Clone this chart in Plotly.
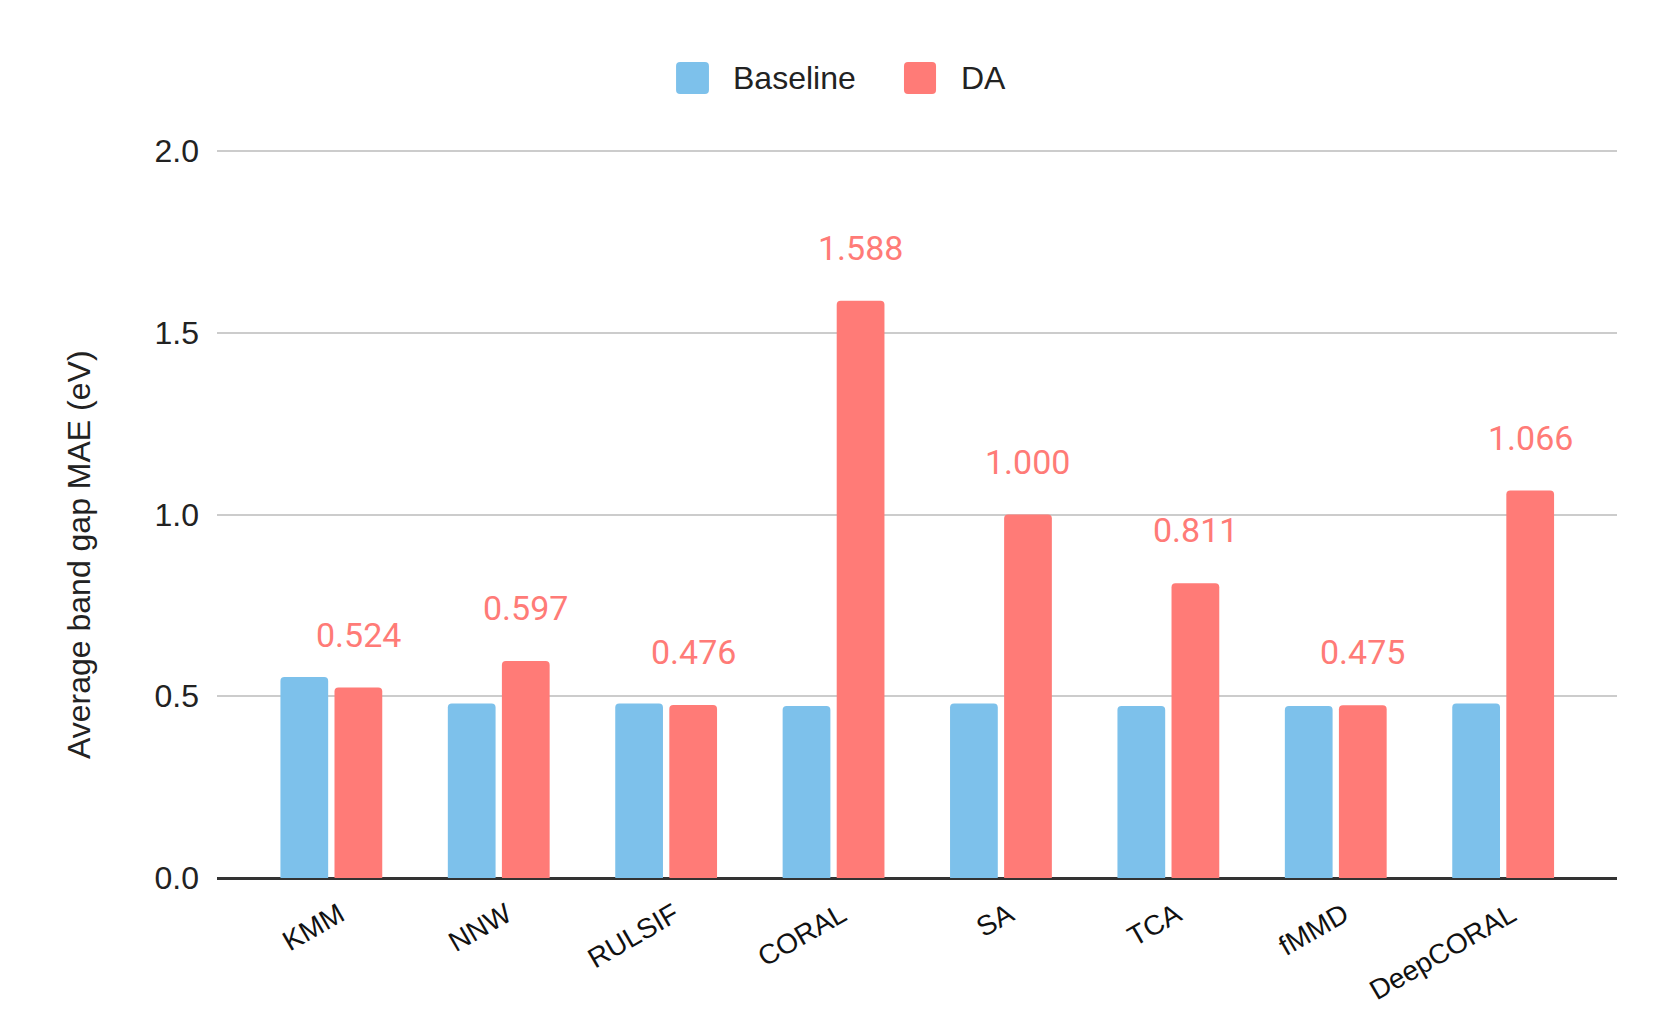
import plotly.graph_objects as go

categories = ["KMM", "NNW", "RULSIF", "CORAL", "SA", "TCA", "fMMD", "DeepCORAL"]
baseline = [0.553, 0.480, 0.480, 0.473, 0.480, 0.473, 0.473, 0.480]
da = [0.524, 0.597, 0.476, 1.588, 1.000, 0.811, 0.475, 1.066]
da_labels = ["0.524", "0.597", "0.476", "1.588", "1.000", "0.811", "0.475", "1.066"]
y_ticks = [0.0, 0.5, 1.0, 1.5, 2.0]
y_tick_text = ["0.0", "0.5", "1.0", "1.5", "2.0"]

BLUE = "#7DC1EB"
RED = "#FF7B77"
TEXT = "#222222"

W, H = 1661, 1030
ML, MR, MT, MB = 209, 52, 142, 160
XR = [-0.683, 7.68]
BARGAP = 0.354
BARGROUPGAP = 0.117
plot_w = W - ML - MR
plot_h = H - MT - MB
px_per_cat = plot_w / (XR[1] - XR[0])
slot_px = px_per_cat * (1 - BARGAP) / 2

fig = go.Figure()
fig.add_trace(go.Bar(x=categories, y=baseline, name="Baseline",
                     marker=dict(color=BLUE, line=dict(width=0)), showlegend=False))
fig.add_trace(go.Bar(x=categories, y=da, name="DA",
                     marker=dict(color=RED, line=dict(width=0)), showlegend=False))

for c, v, t in zip(categories, da, da_labels):
    fig.add_annotation(x=c, y=v, text=t, showarrow=False, xref="x", yref="y",
                       xshift=slot_px / 2, yshift=31, yanchor="bottom",
                       font=dict(family="Roboto", size=34, color=RED))


def rounded_rect(x0, x1, y0, y1, r_px=4):
    rx = r_px / plot_w
    ry = r_px / plot_h
    return (f"M{x0+rx},{y0} L{x1-rx},{y0} Q{x1},{y0} {x1},{y0+ry} "
            f"L{x1},{y1-ry} Q{x1},{y1} {x1-rx},{y1} L{x0+rx},{y1} "
            f"Q{x0},{y1} {x0},{y1-ry} L{x0},{y0+ry} Q{x0},{y0} {x0+rx},{y0} Z")


# legend drawn as layout items (paper coordinates)
legend_items = [("Baseline", BLUE, 0.3279, 0.3514, 0.3671),
                ("DA", RED, 0.4907, 0.5136, 0.5300)]
for name, col, x0, x1, xt in legend_items:
    fig.add_shape(type="path", xref="paper", yref="paper",
                  path=rounded_rect(x0, x1, 1.0769, 1.1209),
                  fillcolor=col, line=dict(width=0))
    fig.add_annotation(xref="paper", yref="paper", x=xt, y=1.0989, text=name,
                       showarrow=False, xanchor="left", yanchor="middle",
                       font=dict(family="Liberation Sans, Arial", size=32, color=TEXT))

# y-axis title
fig.add_annotation(xref="paper", yref="paper", x=-0.0986, y=0.445,
                   text="Average band gap MAE (eV)", textangle=-90, showarrow=False,
                   xanchor="center", yanchor="middle",
                   font=dict(family="Liberation Sans, Arial", size=32, color=TEXT))

fig.update_layout(
    width=W, height=H,
    margin=dict(l=ML, r=MR, t=MT, b=MB),
    paper_bgcolor="white", plot_bgcolor="white",
    barmode="group", bargap=BARGAP, bargroupgap=BARGROUPGAP, barcornerradius=4,
    font=dict(family="Liberation Sans, Arial", color=TEXT),
    xaxis=dict(range=XR, tickangle=-30, tickfont=dict(size=28, color="#111111"),
               showgrid=False, showline=False, ticks="", automargin=False,
               ticklabelstandoff=14, ticklabelshift=8),
    yaxis=dict(range=[0, 2.003], tickvals=y_ticks, ticktext=y_tick_text,
               tickfont=dict(size=32, color=TEXT), showgrid=True,
               gridcolor="#CCCCCC", gridwidth=2, zeroline=True, zerolinecolor="#333333",
               zerolinewidth=2.5, showline=False, ticks="", ticklabelstandoff=17,
               automargin=False),
)

fig.write_html("out.html")
